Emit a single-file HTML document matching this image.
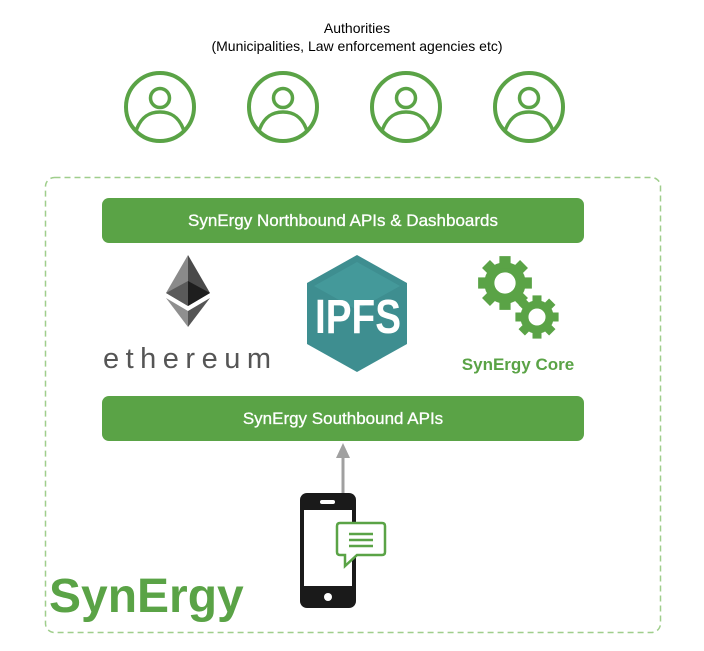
<!DOCTYPE html>
<html><head><meta charset="utf-8"><style>
html,body{margin:0;padding:0;background:#fff;}
body{width:704px;height:651px;position:relative;overflow:hidden;font-family:"Liberation Sans",sans-serif;}
</style></head><body>
<svg width="704" height="651" viewBox="0 0 704 651" xmlns="http://www.w3.org/2000/svg" style="position:absolute;left:0;top:0">
<defs>
<g id="user">
<circle cx="0" cy="0" r="34" fill="none" stroke="#5aa346" stroke-width="4"/>
<circle cx="0" cy="-9" r="9.5" fill="none" stroke="#5aa346" stroke-width="3.5"/>
<path d="M-24,24 C-19,9 -10,5 0,5 C10,5 19,9 24,24" fill="none" stroke="#5aa346" stroke-width="3.5"/>
</g>
<g id="gear">
<circle r="14" fill="none" stroke="#5aa346" stroke-width="9"/>
<g fill="#5aa346">
<rect x="-5" y="-24" width="10" height="11"/>
<rect x="-5" y="-24" width="10" height="11" transform="rotate(45)"/>
<rect x="-5" y="-24" width="10" height="11" transform="rotate(90)"/>
<rect x="-5" y="-24" width="10" height="11" transform="rotate(135)"/>
<rect x="-5" y="-24" width="10" height="11" transform="rotate(180)"/>
<rect x="-5" y="-24" width="10" height="11" transform="rotate(225)"/>
<rect x="-5" y="-24" width="10" height="11" transform="rotate(270)"/>
<rect x="-5" y="-24" width="10" height="11" transform="rotate(315)"/>
</g>
</g>
</defs>
<text x="357" y="33" font-size="14" text-anchor="middle" fill="#000">Authorities</text>
<text x="357" y="51" font-size="14" text-anchor="middle" fill="#000">(Municipalities, Law enforcement agencies etc)</text>
<use href="#user" x="160" y="107"/>
<use href="#user" x="283" y="107"/>
<use href="#user" x="406" y="107"/>
<use href="#user" x="529" y="107"/>
<rect x="45.5" y="177.5" width="615" height="455" rx="9" fill="none" stroke="#9fce8c" stroke-width="1.5" stroke-dasharray="6,4"/>
<rect x="102" y="198" width="482" height="45" rx="7" fill="#5aa346"/>
<text x="343" y="226" font-size="17" text-anchor="middle" fill="#fff" stroke="#fff" stroke-width="0.3">SynErgy Northbound APIs &amp; Dashboards</text>
<rect x="102" y="396" width="482" height="45" rx="7" fill="#5aa346"/>
<text x="343" y="424" font-size="17" text-anchor="middle" fill="#fff" stroke="#fff" stroke-width="0.3">SynErgy Southbound APIs</text>
<!-- ethereum -->
<polygon points="188,255 166,293 188,306" fill="#8a8a8a"/>
<polygon points="188,255 210,293 188,306" fill="#4a4a4a"/>
<polygon points="166,293 188,281 188,306" fill="#5a5a5a"/>
<polygon points="210,293 188,281 188,306" fill="#1e1e1e"/>
<polygon points="166,298 188,311 188,327" fill="#8f8f8f"/>
<polygon points="210,298 188,311 188,327" fill="#555"/>
<text x="187" y="368" font-size="29" text-anchor="middle" fill="#555" textLength="168" lengthAdjust="spacing">ethereum</text>
<!-- IPFS -->
<polygon points="357,255 407,283 407,344 357,372 307,344 307,283" fill="#3e8e90"/>
<polygon points="357,262 400,286 357,310 314,286" fill="#4aa0a2" opacity="0.6"/>
<text x="358" y="333" font-size="48" text-anchor="middle" fill="#fff" font-weight="bold" textLength="86" lengthAdjust="spacingAndGlyphs">IPFS</text>
<!-- gears -->
<g transform="translate(505,283) scale(1.12)"><use href="#gear"/></g>
<g transform="translate(537,317) scale(0.9)"><use href="#gear"/></g>
<text x="518" y="370" font-size="17" font-weight="bold" text-anchor="middle" fill="#5aa346">SynErgy Core</text>
<!-- arrow -->
<line x1="343" y1="493" x2="343" y2="456" stroke="#a0a0a0" stroke-width="3"/>
<polygon points="336,458 350,458 343,443" fill="#a0a0a0"/>
<!-- phone -->
<rect x="300" y="493" width="56" height="115" rx="7" fill="#1a1a1a"/>
<rect x="304" y="510" width="48" height="76" fill="#fff"/>
<rect x="320" y="500" width="15" height="4" rx="2" fill="#fff"/>
<circle cx="328" cy="597" r="4" fill="#fff"/>
<path d="M340,523 H382 Q385,523 385,526 V552 Q385,555 382,555 H357 L345,566 L345,555 H340 Q337,555 337,552 V526 Q337,523 340,523 Z" fill="#fff" stroke="#5aa346" stroke-width="2.5"/>
<line x1="349" y1="534" x2="373" y2="534" stroke="#5aa346" stroke-width="2.5"/>
<line x1="349" y1="540" x2="373" y2="540" stroke="#5aa346" stroke-width="2.5"/>
<line x1="349" y1="546" x2="373" y2="546" stroke="#5aa346" stroke-width="2.5"/>
<text x="49" y="612" font-size="48" font-weight="bold" fill="#5aa346">SynErgy</text>
</svg>
</body></html>
